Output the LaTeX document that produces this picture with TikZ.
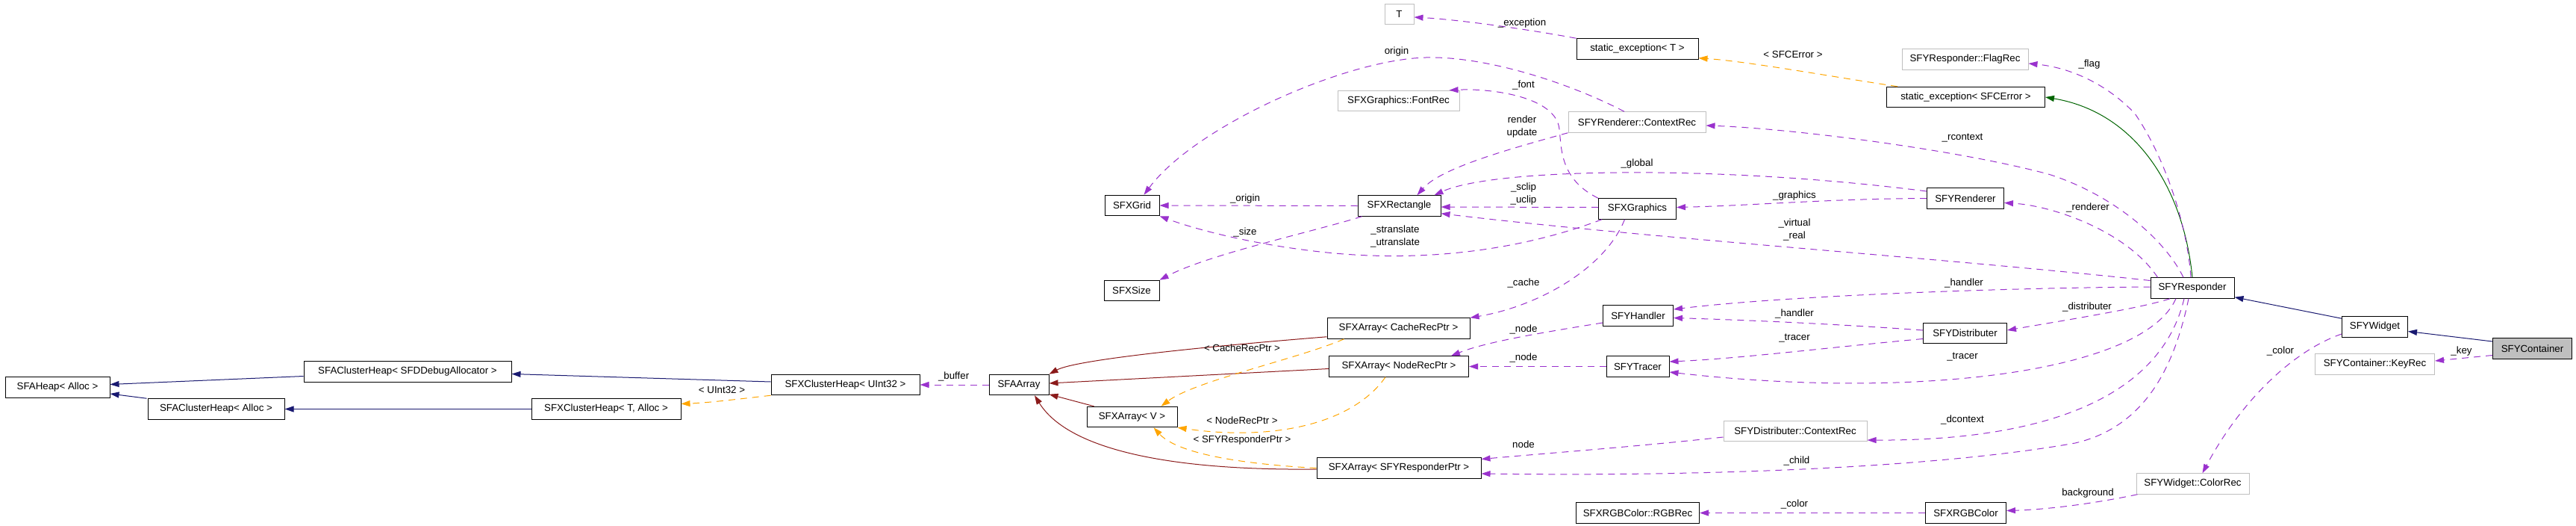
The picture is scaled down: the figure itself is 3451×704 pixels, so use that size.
\documentclass[tikz,border=0pt]{standalone}
\usepackage{fontspec}
\setmainfont{Liberation Sans}
\usetikzlibrary{arrows.meta,calc}
\definecolor{pur}{HTML}{9A32CD}
\definecolor{navyb}{HTML}{191970}
\definecolor{dred}{HTML}{8B1A1A}
\definecolor{orng}{HTML}{FFA500}
\definecolor{dgreen}{HTML}{006400}
\definecolor{gry}{HTML}{BFBFBF}
\newcommand{\nf}{\fontsize{13.3}{17}\selectfont}
\tikzset{
  cls/.style={draw=black, line width=1pt, minimum height=27.5pt, inner sep=0pt, font=\nf, anchor=center},
  ext/.style={cls, draw=gry},
  focusbox/.style={cls, fill=gry},
  lbl/.style={font=\nf, inner sep=0pt, align=center},
  tip/.style={-{Triangle[length=12pt,width=8pt]}},
  usea/.style={tip, draw=pur, fill=none, line width=1pt, dash pattern=on 9pt off 7pt},
  inh/.style={tip, draw=navyb, line width=1pt},
  priv/.style={tip, draw=dred, line width=1pt},
  prot/.style={tip, draw=dgreen, line width=1pt},
  tmpl/.style={tip, draw=orng, line width=1pt, dash pattern=on 9pt off 7pt},
}
\begin{document}
\begin{tikzpicture}[x=1pt,y=-1pt]
\useasboundingbox (0,0) rectangle (3451,704);
% classes
\node[cls,minimum width=140pt] (heap) at (77,518.5) {SFAHeap< Alloc >};
\node[cls,minimum width=278pt] (cdbg) at (546,497.5) {SFAClusterHeap< SFDDebugAllocator >};
\node[cls,minimum width=183pt] (calloc) at (289.5,547.5) {SFAClusterHeap< Alloc >};
\node[cls,minimum width=200pt] (xta) at (812,547.5) {SFXClusterHeap< T, Alloc >};
\node[cls,minimum width=199pt] (xu32) at (1132.5,515) {SFXClusterHeap< UInt32 >};
\node[cls,minimum width=80pt] (aarr) at (1365,515) {SFAArray};
\node[cls,minimum width=121pt] (xv) at (1516.5,558) {SFXArray< V >};
\node[cls,minimum width=74pt] (size) at (1516,389) {SFXSize};
\node[cls,minimum width=73pt] (grid) at (1516.5,275) {SFXGrid};
\node[ext,minimum width=39pt] (tnode) at (1874.5,19) {T};
\node[cls,minimum width=163pt] (seT) at (2193.5,65.5) {static\_exception< T >};
\node[ext,minimum width=163pt] (fontrec) at (1873.5,135) {SFXGraphics::FontRec};
\node[ext,minimum width=184pt] (rctx) at (2193,163.5) {SFYRenderer::ContextRec};
\node[cls,minimum width=111pt] (rect) at (1874.5,275.5) {SFXRectangle};
\node[cls,minimum width=104pt] (gfx) at (2193.5,279.5) {SFXGraphics};
\node[cls,minimum width=191pt] (acache) at (1873.5,439.5) {SFXArray< CacheRecPtr >};
\node[cls,minimum width=187pt] (anode) at (1874,490.5) {SFXArray< NodeRecPtr >};
\node[cls,minimum width=220pt] (aresp) at (1874,626.5) {SFXArray< SFYResponderPtr >};
\node[cls,minimum width=94pt] (handler) at (2194.5,422.5) {SFYHandler};
\node[cls,minimum width=84pt] (tracer) at (2194,490.5) {SFYTracer};
\node[cls,minimum width=165pt] (rgbrec) at (2194,686.5) {SFXRGBColor::RGBRec};
\node[ext,minimum width=169pt] (flagrec) at (2632.5,79.5) {SFYResponder::FlagRec};
\node[cls,minimum width=212pt] (seE) at (2633.5,130) {static\_exception< SFCError >};
\node[cls,minimum width=103pt] (renderer) at (2633,265.5) {SFYRenderer};
\node[cls,minimum width=112pt] (distrib) at (2632.5,446) {SFYDistributer};
\node[ext,minimum width=192pt] (dctx) at (2405,577) {SFYDistributer::ContextRec};
\node[cls,minimum width=108pt] (rgb) at (2633.5,686.5) {SFXRGBColor};
\node[cls,minimum width=112pt] (resp) at (2937,385.5) {SFYResponder};
\node[cls,minimum width=88pt] (widget) at (3181.5,437.5) {SFYWidget};
\node[focusbox,minimum width=106pt] (cont) at (3392.5,466.5) {SFYContainer};
\node[ext,minimum width=160pt] (keyrec) at (3181.5,487.5) {SFYContainer::KeyRec};
\node[ext,minimum width=151pt] (colorrec) at (2937.5,647.5) {SFYWidget::ColorRec};
% public inheritance
\draw[inh] ($(cdbg.west)+(0,6)$) -- ($(heap.east)+(0,-4)$);
\draw[inh] ($(calloc.north west)+(-1,0)$) -- ($(heap.east)+(0,8.5)$);
\draw[inh] (xta.west) -- (calloc.east);
\draw[inh] ($(xu32.west)+(0,-4)$) -- ($(cdbg.east)+(0,3)$);
\draw[inh] ($(widget.north west)+(0,3)$) -- ($(resp.south east)+(0,-2)$);
\draw[inh] ($(cont.west)+(0,-9.5)$) -- ($(widget.east)+(0,6)$);
% protected inheritance
\draw[prot] (resp.north) .. controls (2925,250) and (2860,150) .. (seE.east);
% private inheritance
\draw[priv] ($(acache.south west)+(0,-3)$) .. controls (1600,465) and (1440,482) .. (aarr.north east);
\draw[priv] ($(anode.west)+(0,3)$) -- ($(aarr.east)+(0,-2)$);
\draw[priv] ($(xv.north west)+(10,0)$) -- ($(aarr.south east)+(0,-1.5)$);
\draw[priv] ($(aresp.west)+(0,1.5)$) .. controls (1560,630) and (1430,600) .. ($(aarr.south)+(21,0)$);
% template instances
\draw[tmpl] (xu32.south west) .. controls (990,534) and (950,539) .. ($(xta.east)+(0,-7)$);
\draw[tmpl] ($(acache.south west)+(23,0)$) .. controls (1740,480) and (1600,510) .. ($(xv.north east)+(-22,0)$);
\draw[tmpl] ($(anode.south)+(-18,0)$) .. controls (1810,570) and (1700,590) .. (xv.south east);
\draw[tmpl] (aresp.west) .. controls (1680,622) and (1580,610) .. ($(xv.south)+(29,0)$);
\draw[tmpl] ($(seE.north west)+(15,0)$) .. controls (2450,102) and (2340,82) .. ($(seT.south east)+(0,-2)$);
% usage
\draw[usea] (aarr.west) -- (xu32.east);
\draw[usea] (rect.west) -- (grid.east);
\draw[usea] ($(rect.south west)+(6,0)$) .. controls (1760,310) and (1620,340) .. (size.north east);
\draw[usea] ($(gfx.south west)+(5,0)$) .. controls (2050,330) and (1930,350) .. (1800,340) .. controls (1700,332) and (1610,310) .. (grid.south east);
\draw[usea] ($(rctx.north)+(-17,0)$) .. controls (2100,110) and (1990,75) .. (1910,77) .. controls (1800,80) and (1600,170) .. ($(grid.north)+(16,0)$);
\draw[usea] (rctx.south west) .. controls (2020,200) and (1930,225) .. ($(rect.north)+(24,0)$);
\draw[usea] ($(renderer.west)+(0,-9.5)$) .. controls (2300,220) and (2000,225) .. ($(rect.north east)+(-9,0)$);
\draw[usea] ($(gfx.west)+(0,-2)$) -- ($(rect.east)+(0,1.5)$);
\draw[usea] ($(resp.west)+(0,-10)$) .. controls (2600,345) and (2200,318) .. ($(rect.south east)+(0,-4)$);
\draw[usea] (gfx.north west) .. controls (2090,240) and (2092,200) .. (2089,173) .. controls (2085,130) and (2000,118) .. ($(fontrec.north east)+(-14,0)$);
\draw[usea] (seT.north west) .. controls (2040,38) and (1950,26) .. ($(tnode.east)+(0,4)$);
\draw[usea] (renderer.west) .. controls (2450,266) and (2350,275) .. ($(gfx.east)+(0,-2)$);
\draw[usea] ($(resp.north)+(-12,0)$) .. controls (2900,320) and (2830,260) .. (2744,233) .. controls (2620,200) and (2400,172) .. ($(rctx.east)+(0,4.5)$);
\draw[usea] ($(resp.north)+(-2,0)$) .. controls (2930,300) and (2900,210) .. (2860,152) .. controls (2820,110) and (2770,90) .. ($(flagrec.east)+(0,5.5)$);
\draw[usea] ($(resp.north west)+(10,0)$) .. controls (2850,310) and (2750,275) .. ($(renderer.east)+(0,6)$);
\draw[usea] ($(resp.west)+(0,-1.5)$) .. controls (2700,385) and (2400,395) .. ($(handler.east)+(0,-8.5)$);
\draw[usea] ($(distrib.west)+(0,-4)$) .. controls (2450,433) and (2330,428) .. ($(handler.east)+(0,3)$);
\draw[usea] ($(distrib.west)+(0,7.5)$) .. controls (2450,465) and (2330,480) .. ($(tracer.east)+(0,-6.5)$);
\draw[usea] ($(resp.south)+(-22,0)$) .. controls (2870,500) and (2560,535) .. ($(tracer.east)+(0,7.5)$);
\draw[usea] ($(resp.south)+(-30,0)$) .. controls (2870,412) and (2770,428) .. ($(distrib.east)+(0,-4)$);
\draw[usea] ($(resp.south)+(-11,0)$) .. controls (2890,550) and (2700,590) .. ($(dctx.east)+(0,12)$);
\draw[usea] ($(resp.south)+(-5,0)$) .. controls (2915,480) and (2880,570) .. (2780,593) .. controls (2600,625) and (2300,638) .. ($(aresp.east)+(0,7.5)$);
\draw[usea] ($(dctx.west)+(0,8)$) .. controls (2200,597) and (2080,606) .. ($(aresp.east)+(0,-12)$);
\draw[usea] (rgb.west) -- (rgbrec.east);
\draw[usea] ($(colorrec.south west)+(2,0)$) .. controls (2800,675) and (2740,682) .. ($(rgb.east)+(0,-3)$);
\draw[usea] ($(widget.west)+(0,9.5)$) .. controls (3070,470) and (3000,540) .. ($(colorrec.north)+(13,0)$);
\draw[usea] ($(cont.west)+(0,9)$) -- ($(keyrec.east)+(0,-4.5)$);
\draw[usea] ($(gfx.south)+(-17,0)$) .. controls (2150,360) and (2060,410) .. (acache.north east);
\draw[usea] ($(handler.west)+(0,9.5)$) .. controls (2060,446) and (1990,458) .. ($(anode.north east)+(-24,0)$);
\draw[usea] (tracer.west) -- (anode.east);
% labels
\node[lbl] (lbuffer) at (1277.6,504.3) {\_buffer};
\node[lbl] (lu32) at (967,522) {< UInt32 >};
\node[lbl] (lcachet) at (1664,466) {< CacheRecPtr >};
\node[lbl] (lnodet) at (1664,563) {< NodeRecPtr >};
\node[lbl] (lrespt) at (1664,589) {< SFYResponderPtr >};
\node[lbl] (lorigin) at (1668,266) {\_origin};
\node[lbl] (lsize) at (1668,311) {\_size};
\node[lbl] (lstrans) at (1869,316.5) {\_stranslate\\\_utranslate};
\node[lbl] (lorigin2) at (1871,69) {origin};
\node[lbl] (lexc) at (2039,31) {\_exception};
\node[lbl] (lfont) at (2041,114) {\_font};
\node[lbl] (lrender) at (2039,170) {render\\update};
\node[lbl] (lglobal) at (2193,219) {\_global};
\node[lbl] (lsclip) at (2041,259.5) {\_sclip\\\_uclip};
\node[lbl] (lcache) at (2041,379) {\_cache};
\node[lbl] (lnodea) at (2041,441) {\_node};
\node[lbl] (lnodeb) at (2041,479) {\_node};
\node[lbl] (lnodec) at (2041,595) {node};
\node[lbl] (lsfce) at (2402,73) {< SFCError >};
\node[lbl] (lgraphics) at (2404,262) {\_graphics};
\node[lbl] (lvirtual) at (2404,307) {\_virtual\\\_real};
\node[lbl] (lhandlerb) at (2404,420) {\_handler};
\node[lbl] (ltracerb) at (2404,453) {\_tracer};
\node[lbl] (lchild) at (2407,617) {\_child};
\node[lbl] (lcolora) at (2404,675) {\_color};
\node[lbl] (lrcontext) at (2629,185) {\_rcontext};
\node[lbl] (lhandlera) at (2631,379) {\_handler};
\node[lbl] (ltracera) at (2629,478) {\_tracer};
\node[lbl] (ldcontext) at (2629,562) {\_dcontext};
\node[lbl] (lflag) at (2799,86) {\_flag};
\node[lbl] (lrenderer) at (2797,278) {\_renderer};
\node[lbl] (ldistrib) at (2796,411) {\_distributer};
\node[lbl] (lbg) at (2797,660) {background};
\node[lbl] (lcolorb) at (3055,470) {\_color};
\node[lbl] (lkey) at (3297.5,470) {\_key};
\end{tikzpicture}
\end{document}
